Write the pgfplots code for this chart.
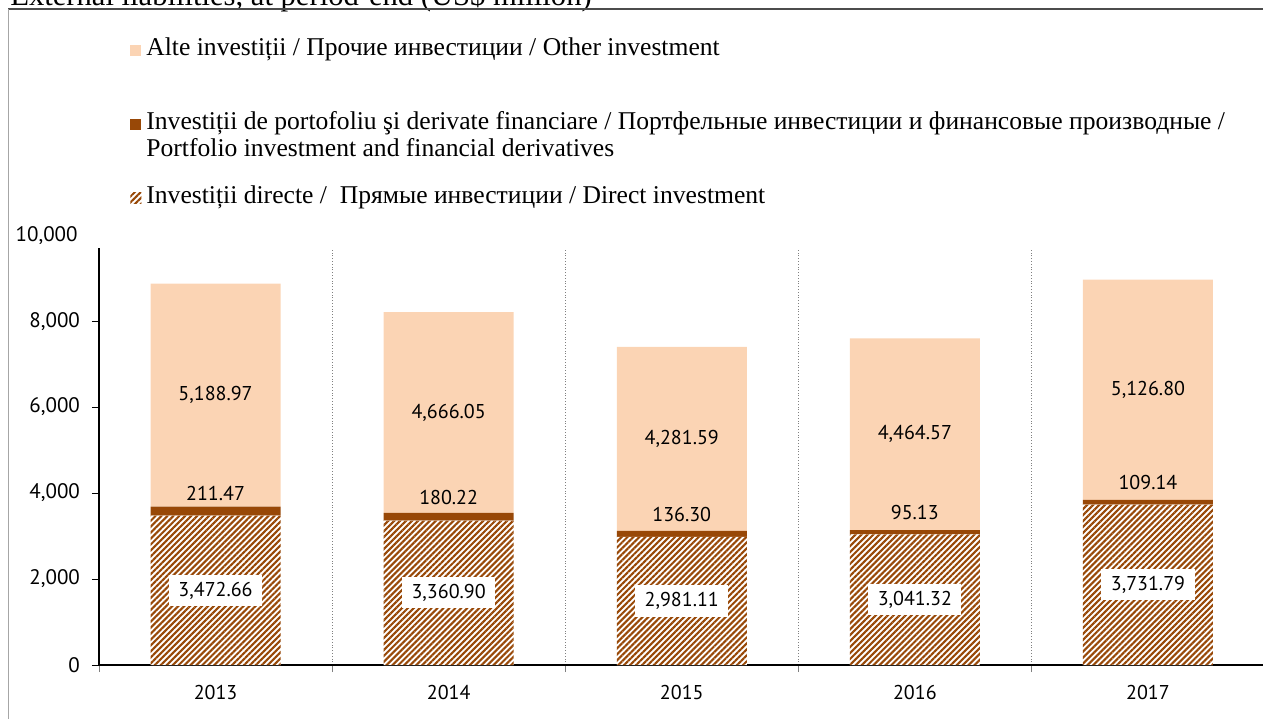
\documentclass[border=0pt]{standalone}
\usepackage{fontspec}
\setmainfont{Liberation Serif}
\newfontfamily\numfont{PT Sans}
\usepackage{pgfplots}
\pgfplotsset{compat=1.18}
\usepackage{pgfplotstable}
\usetikzlibrary{patterns.meta}

\definecolor{peach}{HTML}{FBD4B4}
\definecolor{brn}{HTML}{984807}

% external liabilities by component, US$ million
\pgfplotstableread{
x direct portfolio other
0 3472.66 211.47 5188.97
1 3360.90 180.22 4666.05
2 2981.11 136.30 4281.59
3 3041.32 95.13  4464.57
4 3731.79 109.14 5126.80
}\datatab

% where the value labels sit
\pgfplotstableread{
x y lab
0 1736 3,472.66
1 1680 3,360.90
2 1491 2,981.11
3 1521 3,041.32
4 1866 3,731.79
}\dirlab
\pgfplotstableread{
x y lab
0 4000 211.47
1 3907 180.22
2 3512 136.30
3 3558 95.13
4 4256 109.14
}\portlab
\pgfplotstableread{
x y lab
0 6278 5,188.97
1 5874 4,666.05
2 5258 4,281.59
3 5369 4,464.57
4 6404 5,126.80
}\othlab

\pgfplotsset{
  box/.style={scale only axis, width=582.75pt, height=208.5pt,
    at={(49.5pt,27pt)}, anchor=south west,
    xmin=-0.5, xmax=4.5, ymin=0, ymax=9700},
  hatch/.style={fill=white, draw=none,
    postaction={pattern color=brn,
      pattern={Lines[angle=45,distance=2.1pt,line width=1.05pt]}}},
}

\begin{document}
\begin{tikzpicture}
\useasboundingbox (0,0) rectangle (631.5pt,359.5pt);
\node[anchor=base west, inner sep=0pt, font=\fontsize{15.3}{17}\selectfont]
  at (5pt,356.5pt) {External liabilities, at period-end (US\$ million)};
\draw[black!70, line width=0.75pt] (4pt,355pt) -- (631.5pt,355pt);
\draw[black!35, line width=0.75pt] (4.25pt,355pt) -- (4.25pt,0);

\begin{axis}[box,
  ybar stacked, bar width=65pt,
  axis lines*=left,
  axis line style={black, line width=0.6pt},
  ytick={0,2000,...,10000},
  scaled y ticks=false,
  /pgf/number format/assume math mode=true,
  yticklabel style={/pgf/number format/fixed, /pgf/number format/1000 sep={,},
    font=\numfont\fontsize{10.5}{12}\selectfont, xshift=-2.5pt},
  xticklabel style={font=\numfont\fontsize{10}{12}\selectfont},
  tick align=outside, major tick length=3.5pt,
  ytick style={black},
  xtick={-0.5,0.5,...,4.5}, xticklabels={},
  xtick style={gray},
  xmajorgrids, grid style={densely dotted, gray, line width=0.6pt},
  extra x ticks={0,1,2,3,4},
  extra x tick labels={2013,2014,2015,2016,2017},
  extra x tick style={grid=none, major tick length=0pt,
    xticklabel style={yshift=-6.5pt}},
  legend image code/.code={\fill[#1] (0pt,0pt) rectangle (5.5pt,5.5pt);},
  reverse legend,
  legend style={at={(0.0266,1.5154)}, anchor=north west, draw=none, fill=none,
    inner sep=0pt, row sep=22.5pt, column sep=0.5pt,
    font=\fontsize{12.8}{13.5}\selectfont,
    cells={anchor=base west, inner sep=0pt, text height=9pt, text depth=3pt}},
]
\addplot[hatch] table[x=x, y=direct] {\datatab};
\addlegendentry{Investiții directe /~ Прямые инвестиции / Direct investment}
\addplot[fill=brn, draw=none] table[x=x, y=portfolio] {\datatab};
\addlegendentry{\begin{tabular}[t]{@{}l@{}}Investiții de portofoliu şi derivate financiare / Портфельные инвестиции и финансовые производные /\\Portfolio investment and financial derivatives\end{tabular}}
\addplot[fill=peach, draw=none] table[x=x, y=other] {\datatab};
\addlegendentry{Alte investiții / Прочие инвестиции / Other investment}
\end{axis}

\begin{axis}[box, hide axis, clip=false,
  point meta=explicit symbolic,
  nodes near coords, nodes near coords align=center,
  every node near coord/.append style={font=\numfont\fontsize{10}{12}\selectfont, text=black},
]
\addplot[draw=none, mark=none,
  nodes near coords style={fill=white, inner xsep=4.75pt, inner ysep=3.5pt}]
  table[x=x, y=y, meta=lab] {\dirlab};
\addplot[draw=none, mark=none] table[x=x, y=y, meta=lab] {\portlab};
\addplot[draw=none, mark=none] table[x=x, y=y, meta=lab] {\othlab};
% top tick label sits above the drawn plot area, as in the source chart
\node[anchor=east, inner sep=0pt, font=\numfont\fontsize{10.5}{12}\selectfont]
  at (axis cs:-0.5,10000) [xshift=-10.5pt] {10,000};
\end{axis}
\end{tikzpicture}
\end{document}
